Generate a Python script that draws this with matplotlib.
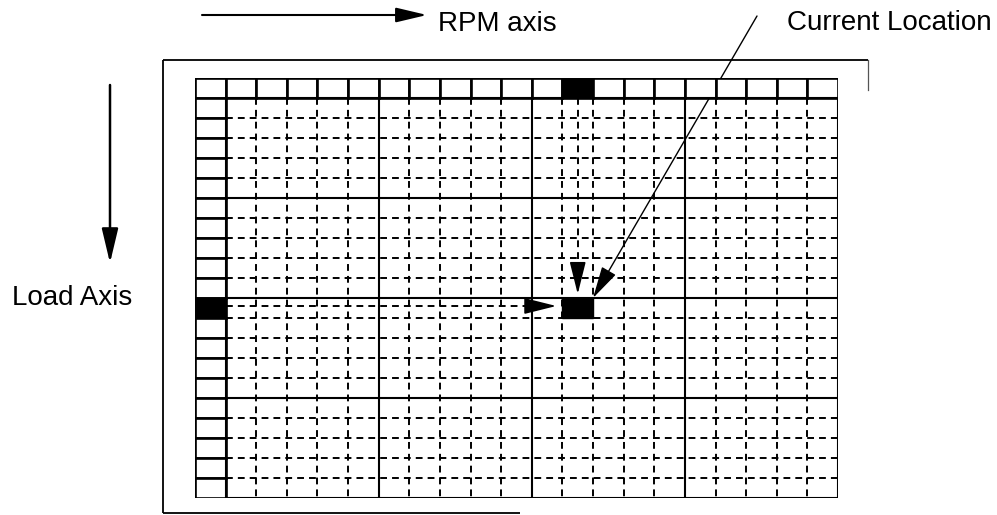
import matplotlib
matplotlib.use("Agg")
import matplotlib.pyplot as plt

plt.rcParams["font.family"] = ["Liberation Sans", "DejaVu Sans"]

# lookup table layout (cell counts and the active cell)
rpm_cells = 20
load_cells = 20
major_step = 5
current_rpm = 11
current_load = 10

rpm_label = "RPM axis"
load_label = "Load Axis"
current_label = "Current Location"

W, H = 997, 515
fig = plt.figure(figsize=(W / 100, H / 100), dpi=100)
fig.patch.set_facecolor("white")

# overlay axes in pixel units for labels / frame
ov = fig.add_axes([0, 0, 1, 1])
ov.set_xlim(0, W)
ov.set_ylim(H, 0)
ov.axis("off")

# grid axes in cell units (-1 = header row / column)
gx0, gx1, gy0, gy1 = 195, 838, 78, 498
ga = fig.add_axes([gx0 / W, (H - gy1) / H, (gx1 - gx0) / W, (gy1 - gy0) / H])
ga.set_xlim(-1, rpm_cells)
ga.set_ylim(load_cells, -1)
ga.axis("off")

# outer frame (scan is partly faded on the right / bottom)
frame_kw = dict(color="black", lw=1.3, solid_capstyle="butt")
ov.plot([163, 163], [60, 513], **frame_kw)
ov.plot([163, 868], [60, 60], **frame_kw)
ov.plot([868, 868], [60, 90], color="#555555", lw=0.9)
ov.plot([163, 520], [513, 513], **frame_kw)

# minor dashed grid
dash_kw = dict(color="black", lw=1.4, dashes=(3.5, 2.6))
for i in range(1, rpm_cells):
    if i % major_step:
        ga.plot([i, i], [0, load_cells], **dash_kw)
for j in range(1, load_cells):
    if j % major_step:
        ga.plot([0, rpm_cells], [j, j], **dash_kw)

# major solid grid
for i in range(0, rpm_cells + 1, major_step):
    ga.plot([i, i], [0, load_cells], color="black", lw=1.5)
for j in range(0, load_cells + 1, major_step):
    ga.plot([0, rpm_cells], [j, j], color="black", lw=1.5)

# header cells
cell_kw = dict(facecolor="white", edgecolor="black", lw=1.9)
for i in range(-1, rpm_cells):
    fc = "black" if i == current_rpm else "white"
    ga.add_patch(plt.Rectangle((i, -1), 1, 1, **{**cell_kw, "facecolor": fc}))
for j in range(0, load_cells):
    fc = "black" if j == current_load else "white"
    ga.add_patch(plt.Rectangle((-1, j), 1, 1, **{**cell_kw, "facecolor": fc}))

# current cell
ga.add_patch(plt.Rectangle((current_rpm, current_load), 1, 1,
                           facecolor="black", edgecolor="black", lw=1.0, zorder=5))

# dashed pointers from the header cells to the current cell
head = "-|>,head_length=20,head_width=5"
xc = current_rpm + 0.5
ga.plot([xc, xc], [0, current_load - 1.7], **dash_kw)
ga.annotate("", xy=(xc, current_load - 0.2), xytext=(xc, current_load - 1.75),
            arrowprops=dict(arrowstyle=head, mutation_scale=1, color="black",
                            lw=1.2, shrinkA=0, shrinkB=0))
yc = current_load + 0.4
ga.plot([0, current_rpm - 1.1], [yc, yc], **dash_kw)
ga.annotate("", xy=(current_rpm - 0.2, yc), xytext=(current_rpm - 1.15, yc),
            arrowprops=dict(arrowstyle=head, mutation_scale=1, color="black",
                            lw=1.2, shrinkA=0, shrinkB=0))

# axis direction arrows
ov.annotate("", xy=(427, 15), xytext=(202, 15),
            arrowprops=dict(arrowstyle="-|>,head_length=19,head_width=4.5",
                            mutation_scale=1, color="black", lw=1.5,
                            shrinkA=0, shrinkB=0))
ov.text(438, 31, rpm_label, fontsize=20, ha="left", va="baseline")

ov.annotate("", xy=(110, 263), xytext=(110, 85),
            arrowprops=dict(arrowstyle="-|>,head_length=21,head_width=5",
                            mutation_scale=1, color="black", lw=1.8,
                            shrinkA=0, shrinkB=0))
ov.text(12, 305, load_label, fontsize=20, ha="left", va="baseline")

# leader to the current location
ov.text(787, 30, current_label, fontsize=20, ha="left", va="baseline")
ov.annotate("", xy=(current_rpm + 1, current_load), xycoords=ga.transData,
            xytext=(757, 16), textcoords=ov.transData,
            arrowprops=dict(arrowstyle="-|>,head_length=20,head_width=5",
                            mutation_scale=1, color="black", lw=1.0,
                            shrinkA=0, shrinkB=0), zorder=6)

fig.savefig("out.png", dpi=100, facecolor="white")
